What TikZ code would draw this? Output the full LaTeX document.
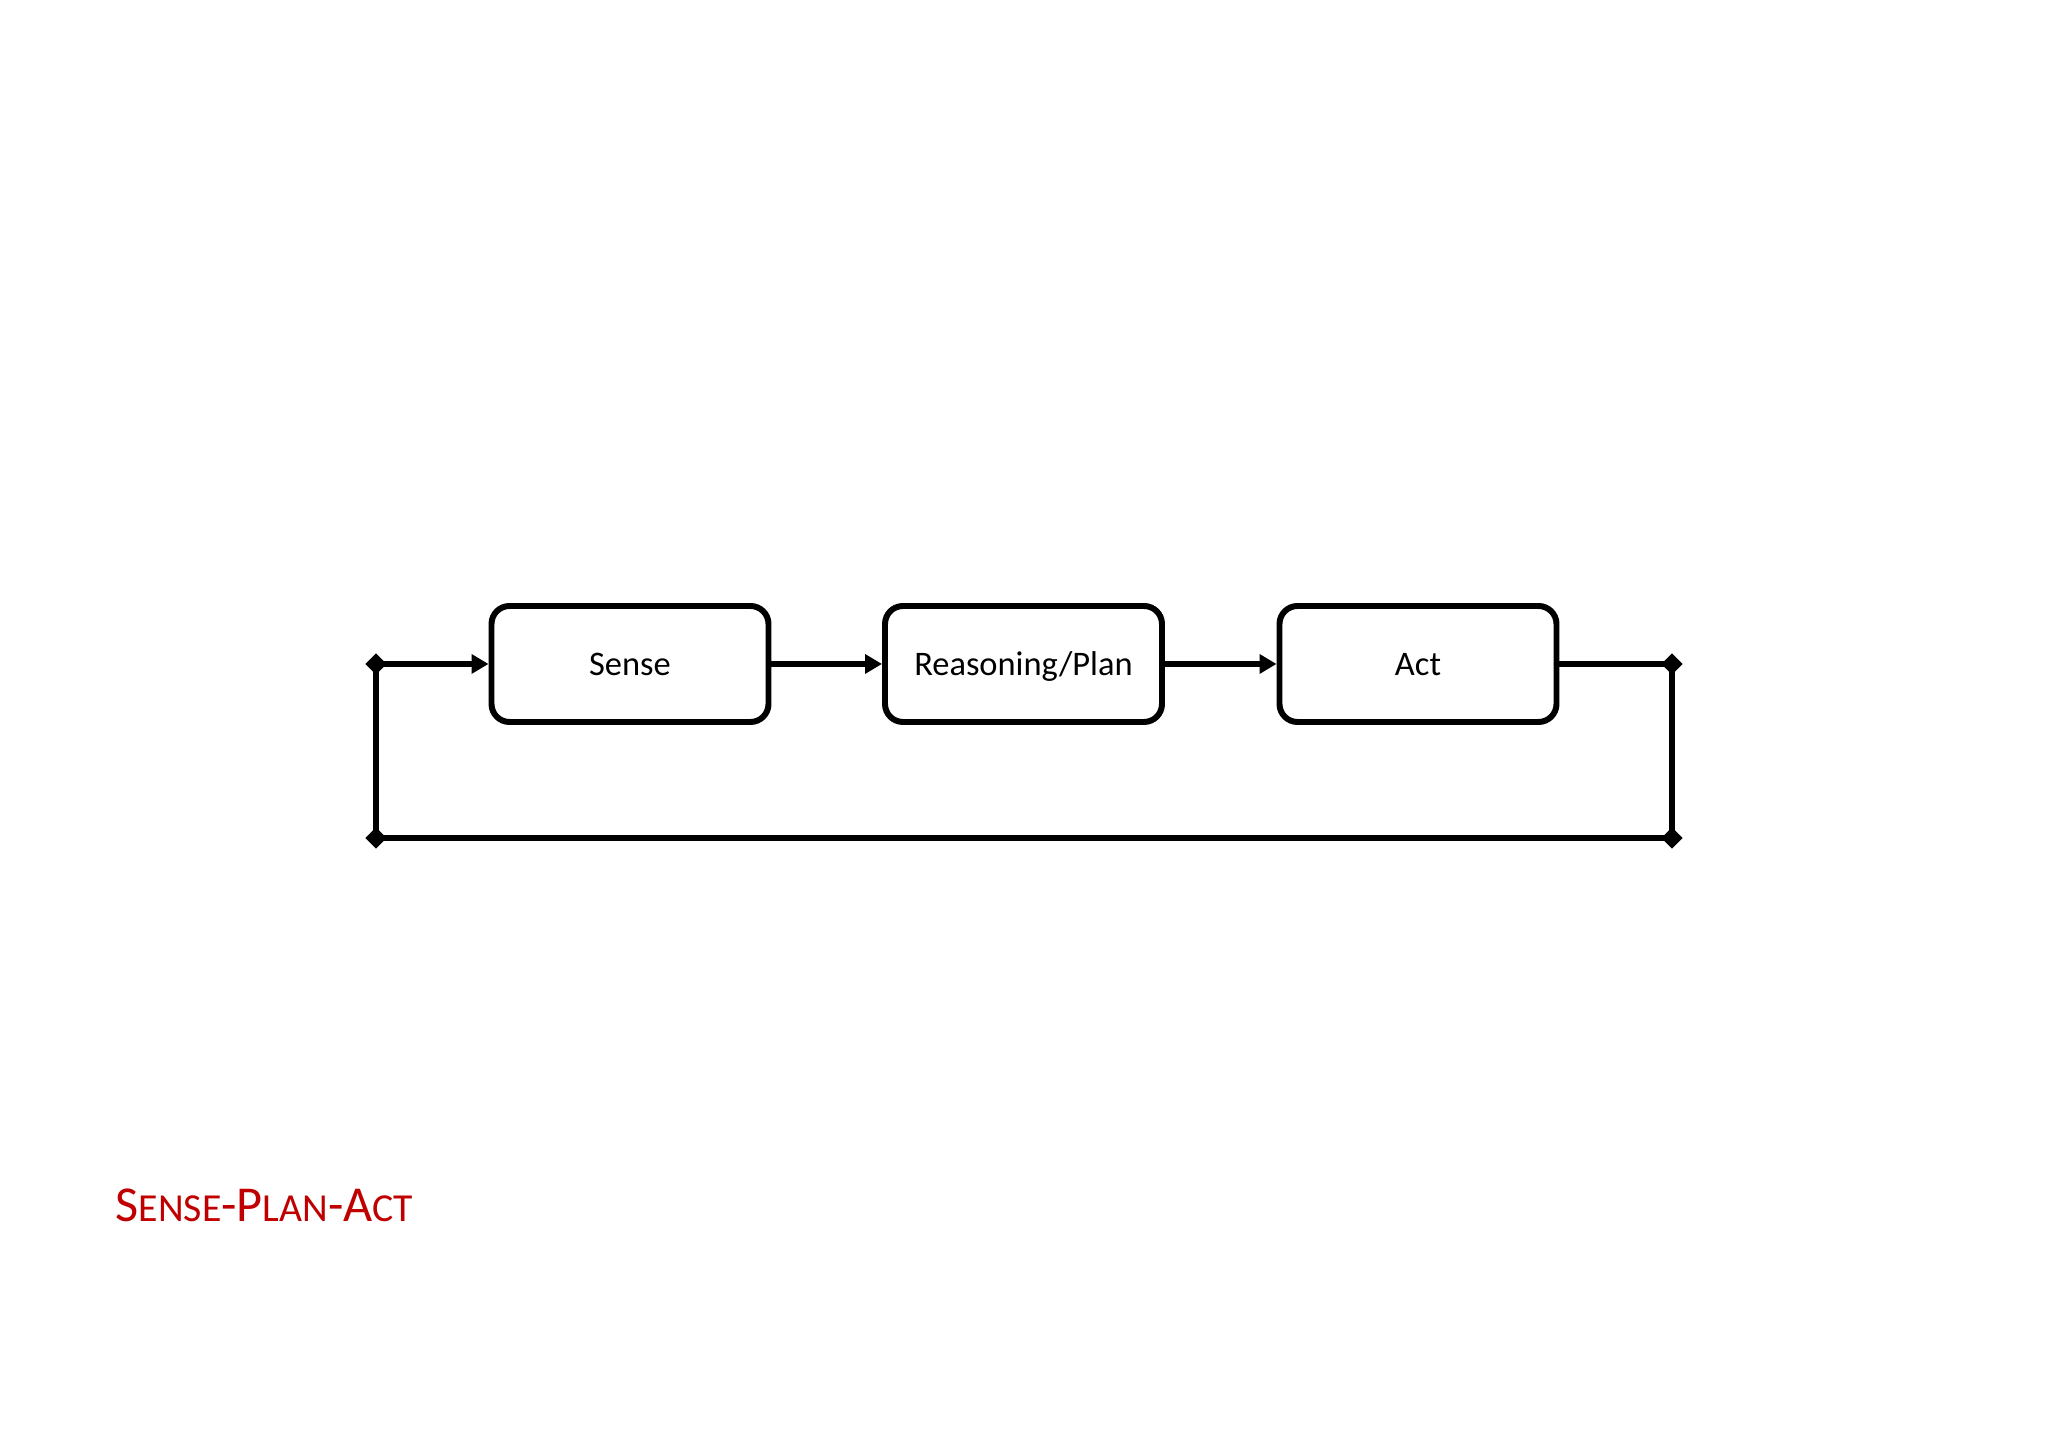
\documentclass[tikz,border=0pt]{standalone}
\usepackage{fontspec}
\setmainfont{Carlito}
\usepackage{xcolor}
\usetikzlibrary{shapes.geometric,arrows.meta}
\definecolor{titlered}{RGB}{192,0,0}
\newcommand{\capbig}[1]{{\fontsize{14.3pt}{17pt}\selectfont #1}}
\newcommand{\capsmall}[1]{{\fontsize{11.3pt}{13pt}\selectfont #1}}

\begin{document}
\begin{tikzpicture}[block/.style={draw, line width=1.7pt, rounded corners=0.18cm,
      minimum width=2.77cm, minimum height=1.16cm, text height=0.644em, text depth=0pt,
      font=\fontsize{9.8pt}{11pt}\selectfont},
    joint/.style={diamond, fill, inner sep=0pt, outer sep=0pt, minimum size=6pt},
    link/.style={line width=1.7pt},
    tip/.style={-{Triangle[length=4.8pt, width=5.3pt]}}]
    \useasboundingbox (0,0) rectangle (20.48,-14.47);
    \node [block] (sense) at (6.30,-6.64) {Sense};
    \node [block] (plan) at (10.235,-6.64) {Reasoning/Plan};
    \node [block] (act) at (14.18,-6.64) {Act};
    \node [joint] (tl) at (3.76,-6.64) {};
    \node [joint] (bl) at (3.76,-8.38) {};
    \node [joint] (br) at (16.72,-8.38) {};
    \node [joint] (tr) at (16.72,-6.64) {};
    \draw [link, tip] (tl.center) -- (sense);
    \draw [link, tip] (sense) -- (plan);
    \draw [link, tip] (plan) -- (act);
    \draw [link] (act) -- (tr.center);
    \draw [link] (tr.center) -- (br.center);
    \draw [link] (br.center) -- (bl.center);
    \draw [link] (bl.center) -- (tl.center);
    \node [anchor=base west, inner sep=0pt, text=titlered] (title) at (1.15,-12.22)
      {\capbig{S}\capsmall{ENSE}\capbig{-P}\capsmall{LAN}\capbig{-A}\capsmall{CT}};
\end{tikzpicture}
\end{document}
